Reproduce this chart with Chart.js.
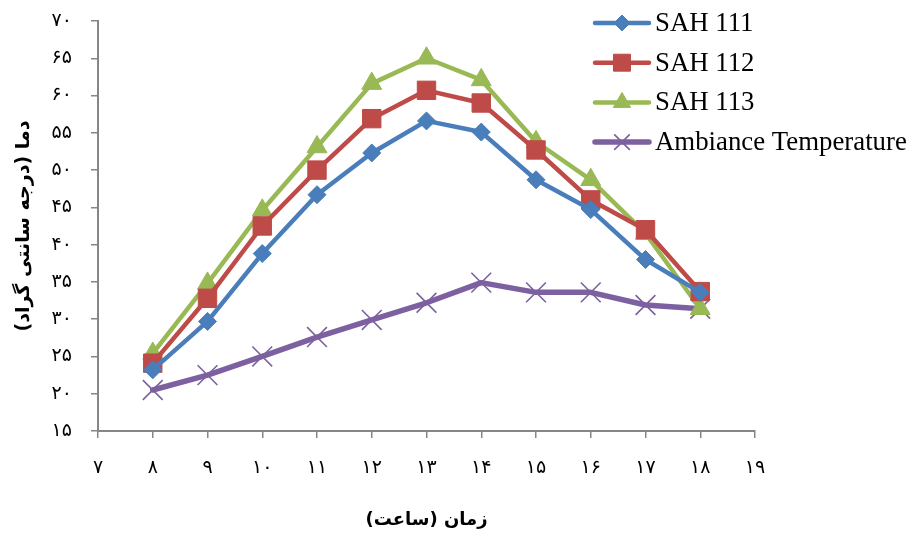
<!DOCTYPE html>
<html>
<head>
<meta charset="utf-8">
<script src="https://cdn.jsdelivr.net/npm/chart.js@4/dist/chart.umd.min.js"></script>
<style>
  html, body { margin: 0; padding: 0; background: #ffffff; }
  #wrap { width: 910px; height: 534px; }
</style>
</head>
<body>
<div id="wrap"><canvas id="c" width="910" height="534"></canvas></div>
<script>
// Hours of the day (x) and measured temperatures (°C)
const hours   = [8, 9, 10, 11, 12, 13, 14, 15, 16, 17, 18];
const sah111  = [23.2, 29.7, 38.8, 46.7, 52.3, 56.6, 55.1, 48.7, 44.7, 38.0, 33.6];
const sah112  = [24.1, 32.8, 42.5, 50.0, 56.9, 60.7, 59.0, 52.7, 46.0, 42.0, 33.7];
const sah113  = [25.4, 34.8, 44.6, 53.1, 61.6, 65.0, 62.1, 53.8, 48.7, 41.5, 31.4];
const ambient = [20.5, 22.5, 25.0, 27.6, 29.9, 32.2, 34.9, 33.6, 33.6, 31.9, 31.4];

const seriesNames = ['SAH 111', 'SAH 112', 'SAH 113', 'Ambiance Temperature'];
const xTitle = '\u200Fزمان (ساعت)\u200F';
const yTitle = '\u200Fدما (درجه سانتی گراد)\u200F';
const persianDigits = ['۰','۱','۲','۳','۴','۵','۶','۷','۸','۹'];

function toPersian(n) {
  return String(n).replace(/[0-9]/g, d => persianDigits[+d]);
}
function pairs(ys) {
  return hours.map((h, i) => ({ x: h, y: ys[i] }));
}

const AXIS = '#868686';
const FA_FONT = 'DejaVu Sans';

// Draws a marker shape (used for the legend swatches)
function marker(ctx, style, r, x, y, fill, stroke, bw) {
  ctx.save();
  ctx.beginPath();
  if (style === 'rectRot') {
    ctx.moveTo(x, y - r); ctx.lineTo(x + r, y); ctx.lineTo(x, y + r); ctx.lineTo(x - r, y); ctx.closePath();
  } else if (style === 'rect') {
    const s = r * Math.SQRT1_2;
    ctx.rect(x - s, y - s, 2 * s, 2 * s);
  } else if (style === 'triangle') {
    for (let k = 0; k < 3; k++) {
      const a = k * 2 * Math.PI / 3;
      const px = x + Math.sin(a) * r, py = y - Math.cos(a) * r;
      if (k === 0) ctx.moveTo(px, py); else ctx.lineTo(px, py);
    }
    ctx.closePath();
  } else if (style === 'crossRot') {
    const o = r * Math.SQRT1_2;
    ctx.moveTo(x - o, y - o); ctx.lineTo(x + o, y + o);
    ctx.moveTo(x - o, y + o); ctx.lineTo(x + o, y - o);
  }
  if (style !== 'crossRot') { ctx.fillStyle = fill; ctx.fill(); }
  ctx.lineWidth = bw; ctx.strokeStyle = stroke; ctx.stroke();
  ctx.restore();
}

// Legend drawn in the top-right corner, overlapping the plot margin
const sideLegend = {
  id: 'sideLegend',
  afterDraw(chart) {
    const ctx = chart.ctx;
    const x0 = 595, x1 = 649, tx = 655;
    const y0 = 23, dy = 39.7;
    chart.data.datasets.forEach((ds, i) => {
      const y = y0 + i * dy;
      ctx.save();
      ctx.strokeStyle = ds.borderColor;
      ctx.lineWidth = ds.borderWidth;
      ctx.lineCap = 'round';
      ctx.beginPath(); ctx.moveTo(x0, y); ctx.lineTo(x1, y); ctx.stroke();
      ctx.restore();
      marker(ctx, ds.pointStyle, ds.legendRadius, (x0 + x1) / 2, y,
             ds.pointBackgroundColor, ds.pointBorderColor, ds.pointBorderWidth);
      ctx.save();
      ctx.fillStyle = '#000000';
      ctx.font = '26.8px "Liberation Serif"';
      ctx.textAlign = 'left';
      ctx.textBaseline = 'middle';
      ctx.fillText(ds.label, tx, y + 1);
      ctx.restore();
    });
  }
};

new Chart(document.getElementById('c'), {
  type: 'line',
  data: {
    datasets: [
      {
        label: seriesNames[0], data: pairs(sah111),
        borderColor: '#4A7EBB', borderWidth: 4.5,
        pointStyle: 'rectRot', pointRadius: 9, legendRadius: 8,
        pointBackgroundColor: '#4A7EBB', pointBorderColor: '#4A7EBB', pointBorderWidth: 1
      },
      {
        label: seriesNames[1], data: pairs(sah112),
        borderColor: '#BE4B48', borderWidth: 4.5,
        pointStyle: 'rect', pointRadius: 13, legendRadius: 12,
        pointBackgroundColor: '#BE4B48', pointBorderColor: '#BE4B48', pointBorderWidth: 1
      },
      {
        label: seriesNames[2], data: pairs(sah113),
        borderColor: '#98B954', borderWidth: 4.5,
        pointStyle: 'triangle', pointRadius: 11.5, legendRadius: 10,
        pointBackgroundColor: '#98B954', pointBorderColor: '#98B954', pointBorderWidth: 1
      },
      {
        label: seriesNames[3], data: pairs(ambient),
        borderColor: '#7D60A0', borderWidth: 5.5,
        pointStyle: 'crossRot', pointRadius: 14, legendRadius: 11,
        pointBackgroundColor: '#7D60A0', pointBorderColor: '#7D60A0', pointBorderWidth: 1.6
      }
    ]
  },
  options: {
    responsive: false,
    animation: false,
    layout: { autoPadding: false, padding: { left: 0, right: 155, top: 21, bottom: 0 } },
    plugins: { legend: { display: false }, tooltip: { enabled: false } },
    elements: { line: { tension: 0, borderJoinStyle: 'round', borderCapStyle: 'round' } },
    scales: {
      x: {
        type: 'linear', min: 7, max: 19,
        afterFit(s) { s.height = 103; },
        ticks: {
          stepSize: 1, padding: 19, color: '#000000',
          font: { family: FA_FONT, size: 19 },
          callback: v => toPersian(v)
        },
        grid: { drawOnChartArea: false, drawTicks: true, tickLength: 7, color: AXIS, lineWidth: 1.5 },
        border: { display: true, color: AXIS, width: 2 },
        title: {
          display: true, text: xTitle, color: '#000000', padding: { top: 0, bottom: 3 },
          font: { family: FA_FONT, size: 18, weight: 'bold' }
        }
      },
      y: {
        min: 15, max: 70,
        afterFit(s) { s.width = 98; s.paddingTop = 0; s.paddingBottom = 0; },
        ticks: {
          stepSize: 5, padding: 19, color: '#000000',
          font: { family: FA_FONT, size: 19 },
          callback: v => toPersian(v)
        },
        grid: { drawOnChartArea: false, drawTicks: true, tickLength: 7, color: AXIS, lineWidth: 1.5 },
        border: { display: true, color: AXIS, width: 2 },
        title: {
          display: true, text: yTitle, color: '#000000', padding: { top: 13, bottom: 0 },
          font: { family: FA_FONT, size: 19, weight: 'bold' }
        }
      }
    }
  },
  plugins: [sideLegend]
});
</script>
</body>
</html>
